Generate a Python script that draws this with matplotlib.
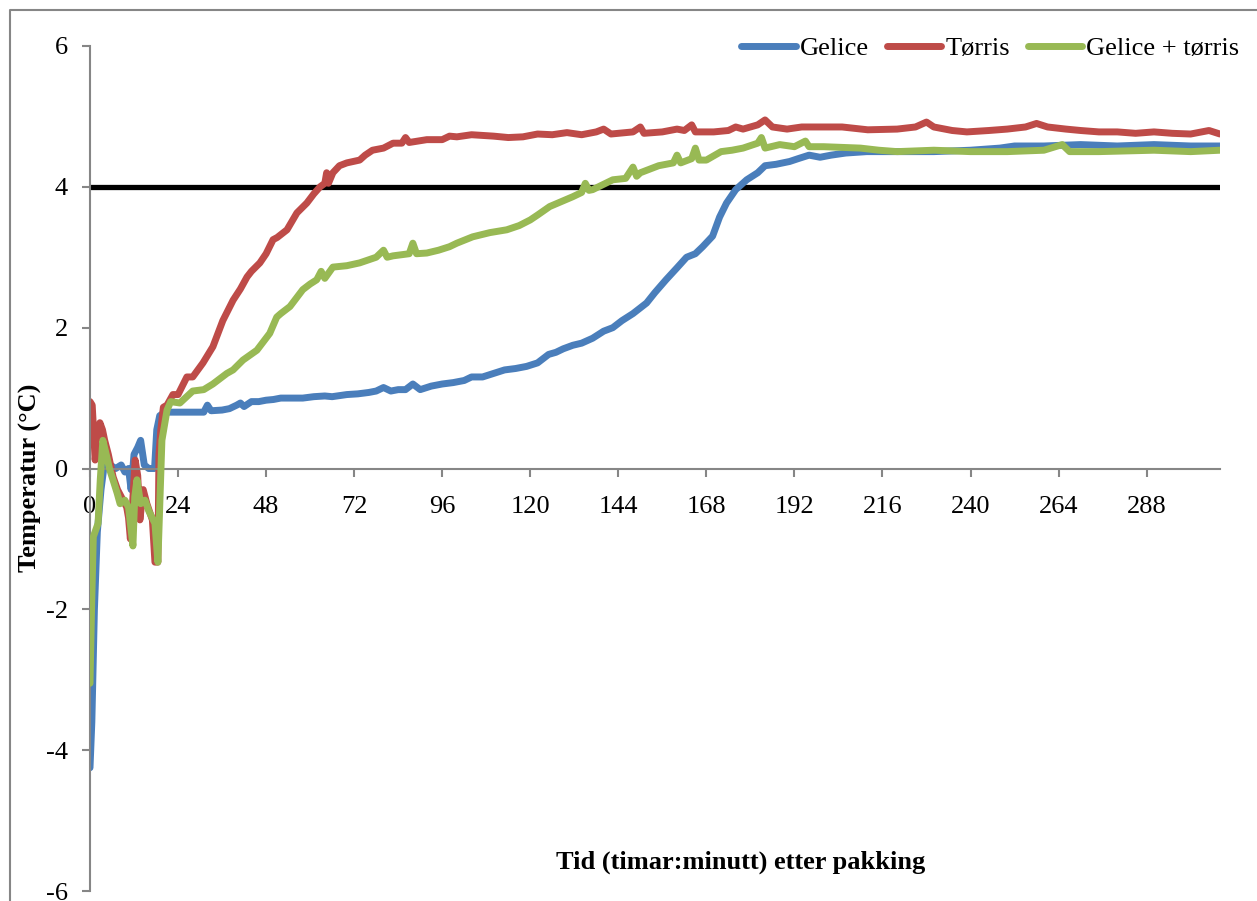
import matplotlib
matplotlib.use('Agg')
import matplotlib.pyplot as plt
from matplotlib.lines import Line2D

plt.rcParams['font.family'] = ['Liberation Serif', 'DejaVu Serif']
plt.rcParams['axes.unicode_minus'] = False

# Gelice
t_gelice = [0, 0.5, 1.2, 2.0, 3.0, 4.0, 5.5, 7, 8.5, 9.5, 10.5, 11.2, 12, 13, 13.8, 14.8, 16, 17.6,
            18.2, 19, 20.5, 22, 24, 28, 31, 32, 33, 36, 38, 40, 41, 42, 44, 46, 48, 50, 52, 55, 58,
            61, 64, 66, 70, 73, 76, 78, 80, 82, 84, 86, 88, 90, 93, 96, 99, 102, 104, 107, 110,
            113, 116, 119, 122, 125, 127, 129, 131.6, 134, 137, 140, 142.5, 145, 148, 151.7, 154,
            157, 160, 162.6, 165, 167, 169.7, 171.6, 173.5, 176, 179, 182, 184, 187, 190.7, 193,
            196, 199, 202, 206, 211.7, 220, 230, 240, 248, 252, 260, 270, 280, 290, 300, 308]
y_gelice = [-4.25, -3.6, -2.0, -0.9, -0.3, 0.1, 0.05, 0.0, 0.05, -0.05, 0.0, -0.3, 0.2, 0.3, 0.4,
            0.05, 0.0, 0.0, 0.55, 0.75, 0.8, 0.8, 0.8, 0.8, 0.8, 0.9, 0.82, 0.83, 0.85, 0.9, 0.93,
            0.88, 0.95, 0.95, 0.97, 0.98, 1.0, 1.0, 1.0, 1.02, 1.03, 1.02, 1.05, 1.06, 1.08, 1.1,
            1.15, 1.1, 1.12, 1.12, 1.2, 1.12, 1.17, 1.2, 1.22, 1.25, 1.3, 1.3, 1.35, 1.4, 1.42,
            1.45, 1.5, 1.62, 1.65, 1.7, 1.75, 1.78, 1.85, 1.95, 2.0, 2.1, 2.2, 2.35, 2.5, 2.68,
            2.85, 3.0, 3.05, 3.15, 3.3, 3.57, 3.77, 3.96, 4.1, 4.2, 4.3, 4.32, 4.36, 4.4, 4.45,
            4.42, 4.45, 4.48, 4.5, 4.5, 4.5, 4.52, 4.55, 4.58, 4.58, 4.6, 4.58, 4.6, 4.58, 4.58]

# Tørris
t_torris = [0, 0.6, 1.4, 2.0, 2.7, 3.4, 4, 5, 6.3, 7.5, 9, 10, 10.5, 11, 11.6, 12.3, 13, 13.6,
            14.5, 15.5, 17, 17.7, 18.5, 18.8, 19.3, 20, 21, 22.6, 24, 26.4, 28, 30.8, 33.5, 36.2,
            39, 41, 42.8, 44, 46.3, 48, 49.9, 51, 53.7, 56.4, 59.1, 61, 62.7, 64, 64.5, 65, 66.2,
            68, 70, 73.5, 75, 77, 80, 82.6, 85, 86, 87, 91.8, 96, 98, 100, 104, 110, 114, 118,
            122, 126, 130, 134, 138, 140, 142, 148, 150, 151, 156, 160, 162, 164, 165, 170, 174,
            176, 178, 182, 184, 186, 190, 194, 198, 205, 212, 220, 225, 228, 230, 235, 239, 245,
            250, 255, 258, 261, 266, 270, 275, 280, 285, 290, 295, 300, 305, 308]
y_torris = [0.95, 0.9, 0.12, 0.4, 0.65, 0.55, 0.4, 0.2, -0.12, -0.3, -0.45, -0.55, -0.7, -1.0,
            -0.5, 0.12, -0.1, -0.73, -0.3, -0.5, -0.73, -1.33, -1.33, 0.2, 0.55, 0.87, 0.9, 1.05,
            1.05, 1.3, 1.3, 1.5, 1.73, 2.1, 2.39, 2.55, 2.72, 2.8, 2.92, 3.05, 3.25, 3.28, 3.39,
            3.63, 3.77, 3.9, 4.0, 4.05, 4.2, 4.05, 4.2, 4.3, 4.34, 4.38, 4.45, 4.52, 4.55, 4.62,
            4.62, 4.7, 4.63, 4.67, 4.67, 4.72, 4.71, 4.74, 4.72, 4.7, 4.71, 4.75, 4.74, 4.77,
            4.74, 4.78, 4.82, 4.75, 4.78, 4.85, 4.76, 4.78, 4.82, 4.8, 4.88, 4.78, 4.78, 4.8,
            4.85, 4.82, 4.88, 4.95, 4.85, 4.82, 4.85, 4.85, 4.85, 4.81, 4.82, 4.85, 4.92, 4.85,
            4.8, 4.78, 4.8, 4.82, 4.85, 4.9, 4.85, 4.82, 4.8, 4.78, 4.78, 4.76, 4.78, 4.76, 4.75,
            4.8, 4.75]

# Gelice + tørris
t_begge = [0, 0.4, 0.9, 2.2, 2.8, 3.5, 4.2, 5.4, 6.5, 7.4, 8.2, 9.5, 10.5, 11.7, 12.2, 12.8,
           13.8, 15, 16, 17.7, 18.5, 19.6, 21, 22, 24.5, 28, 31, 33.5, 37.3, 39, 41.7, 45.5, 49,
           50.9, 52, 54.5, 58, 60, 61.8, 63, 64, 66.2, 70, 73.5, 78, 80, 81, 82.6, 87, 88, 89,
           91.8, 95, 98, 100, 104.3, 109, 113.6, 117, 120, 122, 125.3, 128, 131.6, 134, 135,
           136, 137, 142.5, 146, 148, 149, 150, 155, 159, 160, 161, 164, 165, 166, 168, 172,
           175, 178, 182, 183, 184, 188, 192, 195, 196, 200, 210, 215, 220, 230, 240, 250, 260,
           265, 267, 275, 290, 300, 308]
y_begge = [-3.05, -2.05, -0.97, -0.78, -0.16, 0.4, 0.25, -0.02, -0.2, -0.35, -0.5, -0.45, -0.55,
           -1.1, -0.4, -0.16, -0.5, -0.45, -0.6, -0.78, -1.33, 0.4, 0.83, 0.95, 0.93, 1.1, 1.12,
           1.2, 1.35, 1.4, 1.54, 1.68, 1.92, 2.15, 2.2, 2.3, 2.54, 2.62, 2.68, 2.8, 2.7, 2.86,
           2.88, 2.92, 3.0, 3.1, 3.0, 3.02, 3.05, 3.2, 3.05, 3.06, 3.1, 3.15, 3.2, 3.29, 3.35,
           3.39, 3.45, 3.53, 3.6, 3.72, 3.78, 3.86, 3.92, 4.05, 3.95, 3.96, 4.1, 4.12, 4.28,
           4.15, 4.2, 4.3, 4.34, 4.45, 4.34, 4.4, 4.55, 4.38, 4.38, 4.5, 4.52, 4.55, 4.62, 4.7,
           4.55, 4.6, 4.57, 4.65, 4.57, 4.57, 4.55, 4.52, 4.5, 4.52, 4.5, 4.5, 4.52, 4.6, 4.5,
           4.5, 4.52, 4.5, 4.52]

x_ticks = list(range(0, 289, 24))
y_ticks = [-6, -4, -2, 0, 2, 4, 6]
limit = 4

W, H = 1257, 901
fig = plt.figure(figsize=(W / 100, H / 100), dpi=100)
ax = fig.add_axes([90 / W, 1 - 891 / H, (1220 - 90) / W, (891 - 46) / H])

grey = '#868686'
fs = 19
ax.axhline(limit, color='black', lw=3.8, zorder=1)
ax.plot(t_gelice, y_gelice, color='#4A7EBB', lw=5, solid_capstyle='round', label='Gelice', zorder=2)
ax.plot(t_torris, y_torris, color='#BE4B48', lw=5, solid_capstyle='round', label='Tørris', zorder=2)
ax.plot(t_begge, y_begge, color='#98B954', lw=5, solid_capstyle='round', label='Gelice + tørris', zorder=3)

ax.set_xlim(0, 308)
ax.set_ylim(-6, 6)
ax.set_xticks(x_ticks)
ax.set_yticks(y_ticks)
ax.spines['top'].set_visible(False)
ax.spines['right'].set_visible(False)
ax.spines['bottom'].set_position(('data', 0))
for s in ['left', 'bottom']:
    ax.spines[s].set_color(grey)
    ax.spines[s].set_linewidth(1.5)
ax.tick_params(axis='both', colors=grey, labelcolor='black', labelsize=fs, width=1.5, length=6)
ax.tick_params(axis='x', pad=14)
ax.tick_params(axis='y', pad=10)

fig.text(30 / W, 1 - 478 / H, 'Temperatur (°C)', rotation=90, fontsize=fs, fontweight='bold',
         ha='center', va='center')
fig.text(741 / W, 1 - 862 / H, 'Tid (timar:minutt) etter pakking', fontsize=fs,
         fontweight='bold', ha='center', va='center')

leg = ax.legend(loc='upper right', bbox_to_anchor=(1250 / W, 1 - 26 / H), bbox_transform=fig.transFigure,
                ncol=3, frameon=False, fontsize=fs, handlelength=2.05, handletextpad=0.15,
                columnspacing=0.7, borderaxespad=0)

# chart area border (only left and top visible in the crop)
fig.add_artist(Line2D([10 / W, 10 / W, 1.0], [0.0, 1 - 10 / H, 1 - 10 / H],
                      transform=fig.transFigure, color=grey, lw=1.5))

fig.savefig('out.png', dpi=100)
